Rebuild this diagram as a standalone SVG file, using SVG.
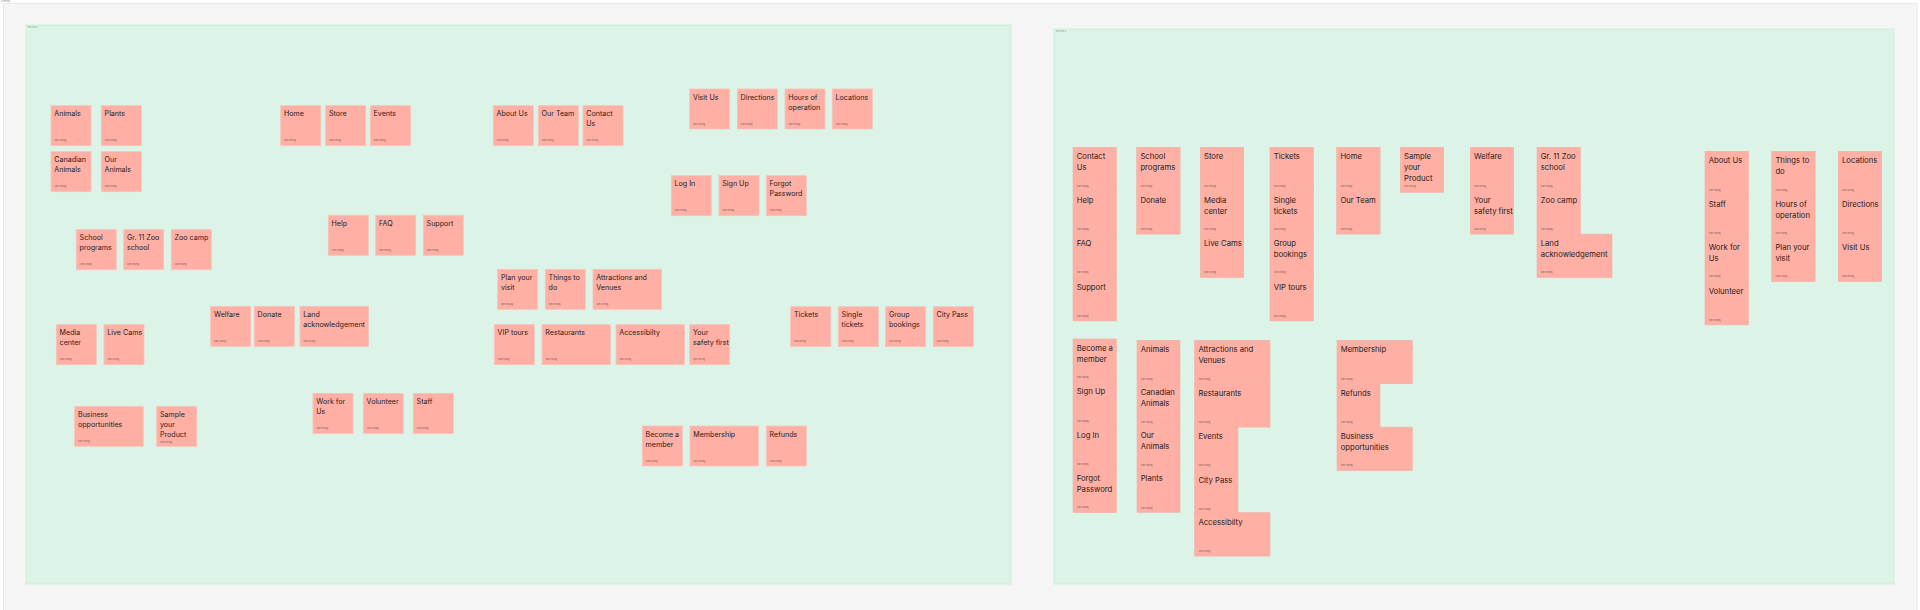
<svg xmlns="http://www.w3.org/2000/svg" width="1920" height="610" viewBox="0 0 1920 610">
<style>
.bg{fill:#ffffff}
.outer{fill:#f5f5f5;stroke:#e4e4e4;stroke-width:0.8}
.frame{fill:#dcf4e7;stroke:#c8ead6;stroke-width:0.8}
.fl{font-family:Inter,"Liberation Sans",sans-serif;font-size:2.4px;fill:#8a9a90}
.s{fill:#ffafa3;stroke:#f9c2b8;stroke-width:0.8}
.s2{fill:#ffafa3;stroke:#f3b0a5;stroke-width:0.6}
.t{font-family:Inter,"Liberation Sans",sans-serif;font-size:7.1px;fill:#1e1e1e}
.t2{font-family:Inter,"Liberation Sans",sans-serif;font-size:7.7px;fill:#1e1e1e}
.a{font-family:Inter,"Liberation Sans",sans-serif;font-size:2.2px;fill:#7a5a55}
</style>
<rect class="bg" x="0" y="0" width="1920" height="610"/>
<rect class="outer" x="3.6" y="3.3" width="1913.4" height="620"/>
<text class="fl" x="0.8" y="2.4">Sitemap</text>
<g id="section-left">
<rect class="frame" x="26" y="25" width="985" height="559"/>
<text class="fl" x="27.5" y="28">Section 1</text>
</g>
<g id="section-right">
<rect class="frame" x="1054" y="29" width="840" height="555"/>
<text class="fl" x="1055.5" y="32">Section 2</text>
</g>
<g id="connectors"></g>

<!-- LEFT FRAME STICKIES -->
<g id="l-animals" transform="translate(51,105.7)"><rect class="s" width="40" height="40"/><text class="t" x="3.3" y="10.8">Animals</text><text class="a" x="3.3" y="35.8">Ivan Chung</text></g>
<g id="l-plants" transform="translate(101.3,105.7)"><rect class="s" width="40" height="40"/><text class="t" x="3.3" y="10.8">Plants</text><text class="a" x="3.3" y="35.8">Ivan Chung</text></g>
<g id="l-canadian-animals" transform="translate(51,151.7)"><rect class="s" width="40" height="40"/><text class="t" x="3.3" y="10.8">Canadian</text><text class="t" x="3.3" y="20.8">Animals</text><text class="a" x="3.3" y="35.8">Ivan Chung</text></g>
<g id="l-our-animals" transform="translate(101.3,151.7)"><rect class="s" width="40" height="40"/><text class="t" x="3.3" y="10.8">Our</text><text class="t" x="3.3" y="20.8">Animals</text><text class="a" x="3.3" y="35.8">Ivan Chung</text></g>
<g id="l-home" transform="translate(280.7,105.7)"><rect class="s" width="40" height="40"/><text class="t" x="3.3" y="10.8">Home</text><text class="a" x="3.3" y="35.8">Ivan Chung</text></g>
<g id="l-store" transform="translate(325.7,105.7)"><rect class="s" width="40" height="40"/><text class="t" x="3.3" y="10.8">Store</text><text class="a" x="3.3" y="35.8">Ivan Chung</text></g>
<g id="l-events" transform="translate(370.3,105.7)"><rect class="s" width="40" height="40"/><text class="t" x="3.3" y="10.8">Events</text><text class="a" x="3.3" y="35.8">Ivan Chung</text></g>
<g id="l-about-us" transform="translate(493.3,105.7)"><rect class="s" width="40" height="40"/><text class="t" x="3.3" y="10.8">About Us</text><text class="a" x="3.3" y="35.8">Ivan Chung</text></g>
<g id="l-our-team" transform="translate(538.3,105.7)"><rect class="s" width="40" height="40"/><text class="t" x="3.3" y="10.8">Our Team</text><text class="a" x="3.3" y="35.8">Ivan Chung</text></g>
<g id="l-contact-us" transform="translate(583,105.7)"><rect class="s" width="40" height="40"/><text class="t" x="3.3" y="10.8">Contact</text><text class="t" x="3.3" y="20.8">Us</text><text class="a" x="3.3" y="35.8">Ivan Chung</text></g>
<g id="l-visit-us" transform="translate(689.7,89)"><rect class="s" width="40" height="40"/><text class="t" x="3.3" y="10.8">Visit Us</text><text class="a" x="3.3" y="35.8">Ivan Chung</text></g>
<g id="l-directions" transform="translate(737.3,89)"><rect class="s" width="40" height="40"/><text class="t" x="3.3" y="10.8">Directions</text><text class="a" x="3.3" y="35.8">Ivan Chung</text></g>
<g id="l-hours" transform="translate(785,89)"><rect class="s" width="40" height="40"/><text class="t" x="3.3" y="10.8">Hours of</text><text class="t" x="3.3" y="20.8">operation</text><text class="a" x="3.3" y="35.8">Ivan Chung</text></g>
<g id="l-locations" transform="translate(832.3,89)"><rect class="s" width="40" height="40"/><text class="t" x="3.3" y="10.8">Locations</text><text class="a" x="3.3" y="35.8">Ivan Chung</text></g>
<g id="l-log-in" transform="translate(671.3,175.7)"><rect class="s" width="40" height="40"/><text class="t" x="3.3" y="10.8">Log In</text><text class="a" x="3.3" y="35.8">Ivan Chung</text></g>
<g id="l-sign-up" transform="translate(719,175.7)"><rect class="s" width="40" height="40"/><text class="t" x="3.3" y="10.8">Sign Up</text><text class="a" x="3.3" y="35.8">Ivan Chung</text></g>
<g id="l-forgot" transform="translate(766.3,175.7)"><rect class="s" width="40" height="40"/><text class="t" x="3.3" y="10.8">Forgot</text><text class="t" x="3.3" y="20.8">Password</text><text class="a" x="3.3" y="35.8">Ivan Chung</text></g>
<g id="l-school-programs" transform="translate(76.3,229.7)"><rect class="s" width="40" height="40"/><text class="t" x="3.3" y="10.8">School</text><text class="t" x="3.3" y="20.8">programs</text><text class="a" x="3.3" y="35.8">Ivan Chung</text></g>
<g id="l-gr11" transform="translate(123.7,229.7)"><rect class="s" width="40" height="40"/><text class="t" x="3.3" y="10.8">Gr. 11 Zoo</text><text class="t" x="3.3" y="20.8">school</text><text class="a" x="3.3" y="35.8">Ivan Chung</text></g>
<g id="l-zoo-camp" transform="translate(171.3,229.7)"><rect class="s" width="40" height="40"/><text class="t" x="3.3" y="10.8">Zoo camp</text><text class="a" x="3.3" y="35.8">Ivan Chung</text></g>
<g id="l-help" transform="translate(328.3,215.3)"><rect class="s" width="40" height="40"/><text class="t" x="3.3" y="10.8">Help</text><text class="a" x="3.3" y="35.8">Ivan Chung</text></g>
<g id="l-faq" transform="translate(375.7,215.3)"><rect class="s" width="40" height="40"/><text class="t" x="3.3" y="10.8">FAQ</text><text class="a" x="3.3" y="35.8">Ivan Chung</text></g>
<g id="l-support" transform="translate(423.3,215.3)"><rect class="s" width="40" height="40"/><text class="t" x="3.3" y="10.8">Support</text><text class="a" x="3.3" y="35.8">Ivan Chung</text></g>
<g id="l-plan-visit" transform="translate(497.7,269.3)"><rect class="s" width="40" height="40"/><text class="t" x="3.3" y="10.8">Plan your</text><text class="t" x="3.3" y="20.8">visit</text><text class="a" x="3.3" y="35.8">Ivan Chung</text></g>
<g id="l-things" transform="translate(545.3,269.3)"><rect class="s" width="40" height="40"/><text class="t" x="3.3" y="10.8">Things to</text><text class="t" x="3.3" y="20.8">do</text><text class="a" x="3.3" y="35.8">Ivan Chung</text></g>
<g id="l-attractions" transform="translate(593,269.3)"><rect class="s" width="68.5" height="40"/><text class="t" x="3.3" y="10.8">Attractions and</text><text class="t" x="3.3" y="20.8">Venues</text><text class="a" x="3.3" y="35.8">Ivan Chung</text></g>
<g id="l-welfare" transform="translate(210.7,306.3)"><rect class="s" width="40" height="40"/><text class="t" x="3.3" y="10.8">Welfare</text><text class="a" x="3.3" y="35.8">Ivan Chung</text></g>
<g id="l-donate" transform="translate(254.3,306.3)"><rect class="s" width="40" height="40"/><text class="t" x="3.3" y="10.8">Donate</text><text class="a" x="3.3" y="35.8">Ivan Chung</text></g>
<g id="l-land" transform="translate(300,306.3)"><rect class="s" width="68.5" height="40"/><text class="t" x="3.3" y="10.8">Land</text><text class="t" x="3.3" y="20.8">acknowledgement</text><text class="a" x="3.3" y="35.8">Ivan Chung</text></g>
<g id="l-media" transform="translate(56.3,324.7)"><rect class="s" width="40" height="40"/><text class="t" x="3.3" y="10.8">Media</text><text class="t" x="3.3" y="20.8">center</text><text class="a" x="3.3" y="35.8">Ivan Chung</text></g>
<g id="l-live-cams" transform="translate(104,324.7)"><rect class="s" width="40" height="40"/><text class="t" x="3.3" y="10.8">Live Cams</text><text class="a" x="3.3" y="35.8">Ivan Chung</text></g>
<g id="l-vip" transform="translate(494.3,324.7)"><rect class="s" width="40" height="40"/><text class="t" x="3.3" y="10.8">VIP tours</text><text class="a" x="3.3" y="35.8">Ivan Chung</text></g>
<g id="l-restaurants" transform="translate(542,324.7)"><rect class="s" width="68.5" height="40"/><text class="t" x="3.3" y="10.8">Restaurants</text><text class="a" x="3.3" y="35.8">Ivan Chung</text></g>
<g id="l-accessibility" transform="translate(616,324.7)"><rect class="s" width="68.5" height="40"/><text class="t" x="3.3" y="10.8">Accessibilty</text><text class="a" x="3.3" y="35.8">Ivan Chung</text></g>
<g id="l-safety" transform="translate(689.7,324.7)"><rect class="s" width="40" height="40"/><text class="t" x="3.3" y="10.8">Your</text><text class="t" x="3.3" y="20.8">safety first</text><text class="a" x="3.3" y="35.8">Ivan Chung</text></g>
<g id="l-tickets" transform="translate(790.7,306.7)"><rect class="s" width="40" height="40"/><text class="t" x="3.3" y="10.8">Tickets</text><text class="a" x="3.3" y="35.8">Ivan Chung</text></g>
<g id="l-single" transform="translate(838.3,306.7)"><rect class="s" width="40" height="40"/><text class="t" x="3.3" y="10.8">Single</text><text class="t" x="3.3" y="20.8">tickets</text><text class="a" x="3.3" y="35.8">Ivan Chung</text></g>
<g id="l-group" transform="translate(885.7,306.7)"><rect class="s" width="40" height="40"/><text class="t" x="3.3" y="10.8">Group</text><text class="t" x="3.3" y="20.8">bookings</text><text class="a" x="3.3" y="35.8">Ivan Chung</text></g>
<g id="l-city-pass" transform="translate(933.3,306.7)"><rect class="s" width="40" height="40"/><text class="t" x="3.3" y="10.8">City Pass</text><text class="a" x="3.3" y="35.8">Ivan Chung</text></g>
<g id="l-business" transform="translate(74.7,406.3)"><rect class="s" width="68.5" height="40"/><text class="t" x="3.3" y="10.8">Business</text><text class="t" x="3.3" y="20.8">opportunities</text><text class="a" x="3.3" y="35.8">Ivan Chung</text></g>
<g id="l-sample" transform="translate(156.7,406.3)"><rect class="s" width="40" height="40"/><text class="t" x="3.3" y="10.8">Sample</text><text class="t" x="3.3" y="20.8">your</text><text class="t" x="3.3" y="30.8">Product</text><text class="a" x="3.3" y="36.8">Ivan Chung</text></g>
<g id="l-work" transform="translate(313,393.5)"><rect class="s" width="40" height="40"/><text class="t" x="3.3" y="10.8">Work for</text><text class="t" x="3.3" y="20.8">Us</text><text class="a" x="3.3" y="35.8">Ivan Chung</text></g>
<g id="l-volunteer" transform="translate(363.3,393.5)"><rect class="s" width="40" height="40"/><text class="t" x="3.3" y="10.8">Volunteer</text><text class="a" x="3.3" y="35.8">Ivan Chung</text></g>
<g id="l-staff" transform="translate(413.3,393.5)"><rect class="s" width="40" height="40"/><text class="t" x="3.3" y="10.8">Staff</text><text class="a" x="3.3" y="35.8">Ivan Chung</text></g>
<g id="l-become" transform="translate(642.3,426)"><rect class="s" width="40" height="40"/><text class="t" x="3.3" y="10.8">Become a</text><text class="t" x="3.3" y="20.8">member</text><text class="a" x="3.3" y="35.8">Ivan Chung</text></g>
<g id="l-membership" transform="translate(690,426)"><rect class="s" width="68.5" height="40"/><text class="t" x="3.3" y="10.8">Membership</text><text class="a" x="3.3" y="35.8">Ivan Chung</text></g>
<g id="l-refunds" transform="translate(766.3,426)"><rect class="s" width="40" height="40"/><text class="t" x="3.3" y="10.8">Refunds</text><text class="a" x="3.3" y="35.8">Ivan Chung</text></g>

<!-- RIGHT FRAME STICKIES -->
<g id="r-contact-us" transform="translate(1073,147.3)"><rect class="s2" width="43.4" height="43.4"/><text class="t2" x="3.7" y="12">Contact</text><text class="t2" x="3.7" y="23">Us</text><text class="a" x="3.7" y="39.3">Ivan Chung</text></g>
<g id="r-help" transform="translate(1073,190.7)"><rect class="s2" width="43.4" height="43.4"/><text class="t2" x="3.7" y="12">Help</text><text class="a" x="3.7" y="39.3">Ivan Chung</text></g>
<g id="r-faq" transform="translate(1073,234.1)"><rect class="s2" width="43.4" height="43.4"/><text class="t2" x="3.7" y="12">FAQ</text><text class="a" x="3.7" y="39.3">Ivan Chung</text></g>
<g id="r-support" transform="translate(1073,277.5)"><rect class="s2" width="43.4" height="43.4"/><text class="t2" x="3.7" y="12">Support</text><text class="a" x="3.7" y="39.3">Ivan Chung</text></g>

<g id="r-school" transform="translate(1136.7,147.3)"><rect class="s2" width="43.4" height="43.4"/><text class="t2" x="3.7" y="12">School</text><text class="t2" x="3.7" y="23">programs</text><text class="a" x="3.7" y="39.3">Ivan Chung</text></g>
<g id="r-donate" transform="translate(1136.7,190.7)"><rect class="s2" width="43.4" height="43.4"/><text class="t2" x="3.7" y="12">Donate</text><text class="a" x="3.7" y="39.3">Ivan Chung</text></g>

<g id="r-store" transform="translate(1200.3,147.3)"><rect class="s2" width="43.4" height="43.4"/><text class="t2" x="3.7" y="12">Store</text><text class="a" x="3.7" y="39.3">Ivan Chung</text></g>
<g id="r-media" transform="translate(1200.3,190.7)"><rect class="s2" width="43.4" height="43.4"/><text class="t2" x="3.7" y="12">Media</text><text class="t2" x="3.7" y="23">center</text><text class="a" x="3.7" y="39.3">Ivan Chung</text></g>
<g id="r-live-cams" transform="translate(1200.3,234.1)"><rect class="s2" width="43.4" height="43.4"/><text class="t2" x="3.7" y="12">Live Cams</text><text class="a" x="3.7" y="39.3">Ivan Chung</text></g>

<g id="r-tickets" transform="translate(1270,147.3)"><rect class="s2" width="43.4" height="43.4"/><text class="t2" x="3.7" y="12">Tickets</text><text class="a" x="3.7" y="39.3">Ivan Chung</text></g>
<g id="r-single" transform="translate(1270,190.7)"><rect class="s2" width="43.4" height="43.4"/><text class="t2" x="3.7" y="12">Single</text><text class="t2" x="3.7" y="23">tickets</text><text class="a" x="3.7" y="39.3">Ivan Chung</text></g>
<g id="r-group" transform="translate(1270,234.1)"><rect class="s2" width="43.4" height="43.4"/><text class="t2" x="3.7" y="12">Group</text><text class="t2" x="3.7" y="23">bookings</text><text class="a" x="3.7" y="39.3">Ivan Chung</text></g>
<g id="r-vip" transform="translate(1270,277.5)"><rect class="s2" width="43.4" height="43.4"/><text class="t2" x="3.7" y="12">VIP tours</text><text class="a" x="3.7" y="39.3">Ivan Chung</text></g>

<g id="r-home" transform="translate(1336.7,147.3)"><rect class="s2" width="43.4" height="43.4"/><text class="t2" x="3.7" y="12">Home</text><text class="a" x="3.7" y="39.3">Ivan Chung</text></g>
<g id="r-our-team" transform="translate(1336.7,190.7)"><rect class="s2" width="43.4" height="43.4"/><text class="t2" x="3.7" y="12">Our Team</text><text class="a" x="3.7" y="39.3">Ivan Chung</text></g>

<g id="r-sample" transform="translate(1400.3,147.3)"><rect class="s2" width="43.4" height="45"/><text class="t2" x="3.7" y="12">Sample</text><text class="t2" x="3.7" y="23">your</text><text class="t2" x="3.7" y="34">Product</text><text class="a" x="3.7" y="40.2">Ivan Chung</text></g>

<g id="r-welfare" transform="translate(1470.3,147.3)"><rect class="s2" width="43.4" height="43.4"/><text class="t2" x="3.7" y="12">Welfare</text><text class="a" x="3.7" y="39.3">Ivan Chung</text></g>
<g id="r-safety" transform="translate(1470.3,190.7)"><rect class="s2" width="43.4" height="43.4"/><text class="t2" x="3.7" y="12">Your</text><text class="t2" x="3.7" y="23">safety first</text><text class="a" x="3.7" y="39.3">Ivan Chung</text></g>

<g id="r-gr11" transform="translate(1537,147.3)"><rect class="s2" width="43.4" height="43.4"/><text class="t2" x="3.7" y="12">Gr. 11 Zoo</text><text class="t2" x="3.7" y="23">school</text><text class="a" x="3.7" y="39.3">Ivan Chung</text></g>
<g id="r-zoo-camp" transform="translate(1537,190.7)"><rect class="s2" width="43.4" height="43.4"/><text class="t2" x="3.7" y="12">Zoo camp</text><text class="a" x="3.7" y="39.3">Ivan Chung</text></g>
<g id="r-land" transform="translate(1537,234.1)"><rect class="s2" width="75" height="43.4"/><text class="t2" x="3.7" y="12">Land</text><text class="t2" x="3.7" y="23">acknowledgement</text><text class="a" x="3.7" y="39.3">Ivan Chung</text></g>

<g id="r-about-us" transform="translate(1705,151.3)"><rect class="s2" width="43.4" height="43.4"/><text class="t2" x="3.7" y="12">About Us</text><text class="a" x="3.7" y="39.3">Ivan Chung</text></g>
<g id="r-staff" transform="translate(1705,194.7)"><rect class="s2" width="43.4" height="43.4"/><text class="t2" x="3.7" y="12">Staff</text><text class="a" x="3.7" y="39.3">Ivan Chung</text></g>
<g id="r-work" transform="translate(1705,238.1)"><rect class="s2" width="43.4" height="43.4"/><text class="t2" x="3.7" y="12">Work for</text><text class="t2" x="3.7" y="23">Us</text><text class="a" x="3.7" y="39.3">Ivan Chung</text></g>
<g id="r-volunteer" transform="translate(1705,281.5)"><rect class="s2" width="43.4" height="43.4"/><text class="t2" x="3.7" y="12">Volunteer</text><text class="a" x="3.7" y="39.3">Ivan Chung</text></g>

<g id="r-things" transform="translate(1771.7,151.3)"><rect class="s2" width="43.4" height="43.4"/><text class="t2" x="3.7" y="12">Things to</text><text class="t2" x="3.7" y="23">do</text><text class="a" x="3.7" y="39.3">Ivan Chung</text></g>
<g id="r-hours" transform="translate(1771.7,194.7)"><rect class="s2" width="43.4" height="43.4"/><text class="t2" x="3.7" y="12">Hours of</text><text class="t2" x="3.7" y="23">operation</text><text class="a" x="3.7" y="39.3">Ivan Chung</text></g>
<g id="r-plan-visit" transform="translate(1771.7,238.1)"><rect class="s2" width="43.4" height="43.4"/><text class="t2" x="3.7" y="12">Plan your</text><text class="t2" x="3.7" y="23">visit</text><text class="a" x="3.7" y="39.3">Ivan Chung</text></g>

<g id="r-locations" transform="translate(1838.3,151.3)"><rect class="s2" width="43.4" height="43.4"/><text class="t2" x="3.7" y="12">Locations</text><text class="a" x="3.7" y="39.3">Ivan Chung</text></g>
<g id="r-directions" transform="translate(1838.3,194.7)"><rect class="s2" width="43.4" height="43.4"/><text class="t2" x="3.7" y="12">Directions</text><text class="a" x="3.7" y="39.3">Ivan Chung</text></g>
<g id="r-visit-us" transform="translate(1838.3,238.1)"><rect class="s2" width="43.4" height="43.4"/><text class="t2" x="3.7" y="12">Visit Us</text><text class="a" x="3.7" y="39.3">Ivan Chung</text></g>

<g id="r-become" transform="translate(1073,339)"><rect class="s2" width="43.4" height="43.4"/><text class="t2" x="3.7" y="12">Become a</text><text class="t2" x="3.7" y="23">member</text><text class="a" x="3.7" y="39.3">Ivan Chung</text></g>
<g id="r-sign-up" transform="translate(1073,382.4)"><rect class="s2" width="43.4" height="43.4"/><text class="t2" x="3.7" y="12">Sign Up</text><text class="a" x="3.7" y="39.3">Ivan Chung</text></g>
<g id="r-log-in" transform="translate(1073,425.8)"><rect class="s2" width="43.4" height="43.4"/><text class="t2" x="3.7" y="12">Log In</text><text class="a" x="3.7" y="39.3">Ivan Chung</text></g>
<g id="r-forgot" transform="translate(1073,469.2)"><rect class="s2" width="43.4" height="43.4"/><text class="t2" x="3.7" y="12">Forgot</text><text class="t2" x="3.7" y="23">Password</text><text class="a" x="3.7" y="39.3">Ivan Chung</text></g>

<g id="r-animals" transform="translate(1137,340.3)"><rect class="s2" width="43" height="43"/><text class="t2" x="3.7" y="12">Animals</text><text class="a" x="3.7" y="39.3">Ivan Chung</text></g>
<g id="r-canadian" transform="translate(1137,383.3)"><rect class="s2" width="43" height="43"/><text class="t2" x="3.7" y="12">Canadian</text><text class="t2" x="3.7" y="23">Animals</text><text class="a" x="3.7" y="39.3">Ivan Chung</text></g>
<g id="r-our-animals" transform="translate(1137,426.3)"><rect class="s2" width="43" height="43"/><text class="t2" x="3.7" y="12">Our</text><text class="t2" x="3.7" y="23">Animals</text><text class="a" x="3.7" y="39.3">Ivan Chung</text></g>
<g id="r-plants" transform="translate(1137,469.3)"><rect class="s2" width="43" height="43"/><text class="t2" x="3.7" y="12">Plants</text><text class="a" x="3.7" y="39.3">Ivan Chung</text></g>

<g id="r-attractions" transform="translate(1194.7,340.3)"><rect class="s2" width="75.3" height="43.4"/><text class="t2" x="3.7" y="12">Attractions and</text><text class="t2" x="3.7" y="23">Venues</text><text class="a" x="3.7" y="39.3">Ivan Chung</text></g>
<g id="r-restaurants" transform="translate(1194.7,383.7)"><rect class="s2" width="75.3" height="43.4"/><text class="t2" x="3.7" y="12">Restaurants</text><text class="a" x="3.7" y="39.3">Ivan Chung</text></g>
<g id="r-events" transform="translate(1194.7,427.1)"><rect class="s2" width="43.3" height="43.4"/><text class="t2" x="3.7" y="12">Events</text><text class="a" x="3.7" y="39.3">Ivan Chung</text></g>
<g id="r-city-pass" transform="translate(1194.7,470.5)"><rect class="s2" width="43.3" height="43.4"/><text class="t2" x="3.7" y="12">City Pass</text><text class="a" x="3.7" y="39.3">Ivan Chung</text></g>
<g id="r-accessibility" transform="translate(1194.7,512.7)"><rect class="s2" width="75.3" height="43.4"/><text class="t2" x="3.7" y="12">Accessibilty</text><text class="a" x="3.7" y="39.3">Ivan Chung</text></g>

<g id="r-membership" transform="translate(1337,340.3)"><rect class="s2" width="75.3" height="43.4"/><text class="t2" x="3.7" y="12">Membership</text><text class="a" x="3.7" y="39.3">Ivan Chung</text></g>
<g id="r-refunds" transform="translate(1337,383.7)"><rect class="s2" width="43" height="43.4"/><text class="t2" x="3.7" y="12">Refunds</text><text class="a" x="3.7" y="39.3">Ivan Chung</text></g>
<g id="r-business" transform="translate(1337,427.1)"><rect class="s2" width="75.3" height="43.4"/><text class="t2" x="3.7" y="12">Business</text><text class="t2" x="3.7" y="23">opportunities</text><text class="a" x="3.7" y="39.3">Ivan Chung</text></g>
</svg>
